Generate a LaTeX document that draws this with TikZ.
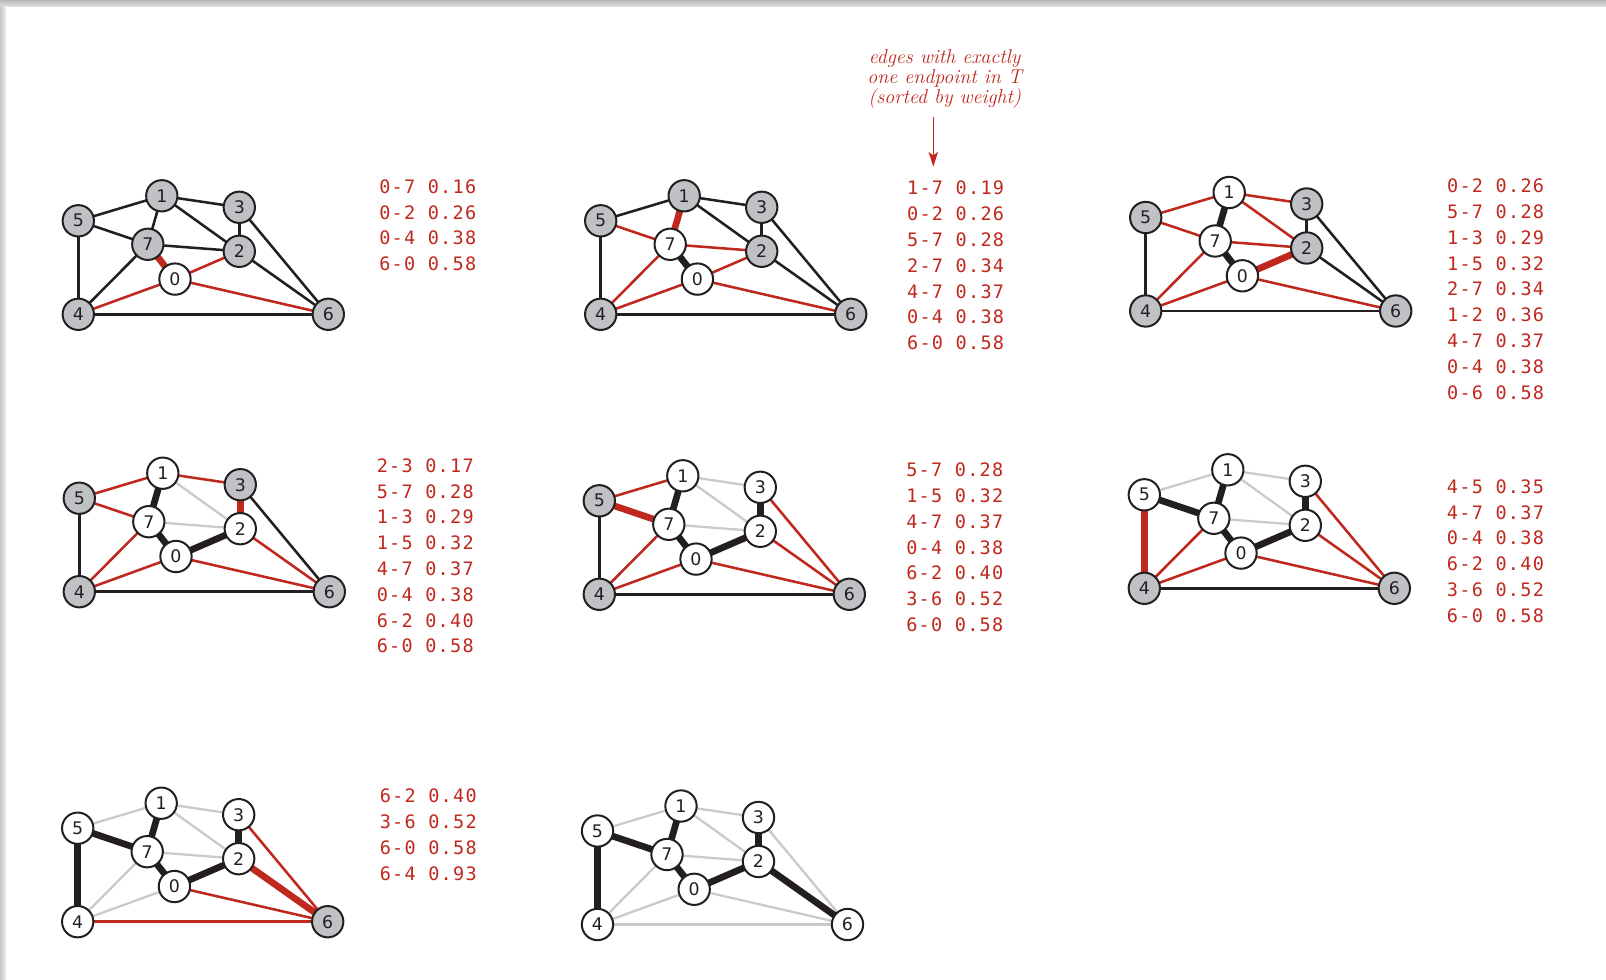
\documentclass[tikz,border=0pt]{standalone}
\usepackage{fontspec}
\newfontfamily\lblfont{DejaVu Sans}
\newfontfamily\monofont[LetterSpace=7]{DejaVu Sans Mono}
\usetikzlibrary{arrows.meta}
\definecolor{myred}{RGB}{192,40,30}
\definecolor{ngray}{RGB}{192,193,196}
\definecolor{lgray}{RGB}{202,202,202}
\definecolor{ink}{RGB}{35,31,32}
\pgfdeclarelayer{back}
\pgfdeclarelayer{bg}
\pgfsetlayers{back,bg,main}
\tikzset{
 vtx/.style={circle, draw=ink, line width=1.5pt, minimum size=23.5pt, inner sep=0pt,
   font=\lblfont\fontsize{13}{13}\selectfont, text=ink},
 blk/.style={draw=ink, line width=1.9pt},
 rd/.style={draw=myred, line width=1.9pt},
 gr/.style={draw=lgray, line width=1.7pt},
 tk/.style={draw=ink, line width=5pt},
 rtk/.style={draw=myred, line width=5pt},
 lst/.style={anchor=base west, inner sep=0pt, text=myred, font=\monofont\fontsize{13.9}{13.9}\selectfont},
 ann/.style={anchor=base, inner sep=0pt, text=myred, font=\itshape\fontsize{15}{15}\selectfont},
 p4/.style={at={(0,0)}}, p5/.style={at={(0,-93.5)}}, p1/.style={at={(83.5,-118.5)}},
 p3/.style={at={(161,-107)}}, p7/.style={at={(69.5,-70)}}, p2/.style={at={(161,-63)}},
 p0/.style={at={(96.7,-35.2)}}, p6/.style={at={(250,0)}}
}
\newcommand\vtxs[4]{\begin{scope}[shift={#2}]\foreach \n in {#4} \node[vtx, fill=#3, p\n] (#1\n) {\n};\end{scope}}
\newcommand\edgeset[3]{\foreach \a/\b in {#3} \draw[#2] (#1\a.center) -- (#1\b.center);}
\newcommand\mylist[4]{\foreach \t [count=\i] in {#4} \node[lst] (#1\i) at (#2, {#3+(\i-1)*25.8}) {\t};}
\begin{document}
\begin{tikzpicture}[x=0.75pt, y=-0.75pt]
\useasboundingbox (0,0) rectangle (1606,980);
\begin{pgfonlayer}{back}
\fill[white] (0,0) rectangle (1606,980);
\shade[top color=black!28, bottom color=black!10] (0,0) rectangle (1606,7);
\shade[left color=black!22, right color=black!6] (0,7) rectangle (6,980);
\end{pgfonlayer}

% ---------- panel A
\vtxs{A}{(78.3,314.3)}{white}{0}
\vtxs{A}{(78.3,314.3)}{ngray}{1,2,3,4,5,6,7}
% ---------- panel B
\vtxs{B}{(600.7,314.3)}{white}{0,7}
\vtxs{B}{(600.7,314.3)}{ngray}{1,2,3,4,5,6}
% ---------- panel C
\vtxs{C}{(1145.7,311)}{white}{0,7,1}
\vtxs{C}{(1145.7,311)}{ngray}{2,3,4,5,6}
% ---------- panel D
\vtxs{D}{(79.3,591.7)}{white}{0,7,1,2}
\vtxs{D}{(79.3,591.7)}{ngray}{3,4,5,6}
% ---------- panel E
\vtxs{E}{(599.3,594.3)}{white}{0,7,1,2,3}
\vtxs{E}{(599.3,594.3)}{ngray}{4,5,6}
% ---------- panel F
\vtxs{F}{(1144.3,588.3)}{white}{0,7,1,2,3,5}
\vtxs{F}{(1144.3,588.3)}{ngray}{4,6}
% ---------- panel G
\vtxs{G}{(77.7,921.7)}{white}{0,7,1,2,3,5,4}
\vtxs{G}{(77.7,921.7)}{ngray}{6}
% ---------- panel H
\vtxs{H}{(597.5,924.5)}{white}{0,1,2,3,4,5,6,7}

\begin{pgfonlayer}{bg}
 % A
 \edgeset{A}{blk}{5/1,1/3,5/7,1/7,1/2,3/2,7/2,3/6,2/6,5/4,7/4,4/6}
 \edgeset{A}{rd}{0/2,0/4,0/6}
 \edgeset{A}{rtk}{0/7}
 % B
 \edgeset{B}{blk}{5/1,1/3,1/2,3/2,3/6,2/6,5/4,4/6}
 \edgeset{B}{rd}{5/7,2/7,4/7,0/2,0/4,0/6}
 \edgeset{B}{tk}{0/7}
 \edgeset{B}{rtk}{1/7}
 % C
 \edgeset{C}{blk}{3/2,3/6,2/6,5/4,4/6}
 \edgeset{C}{rd}{1/5,1/3,1/2,5/7,2/7,4/7,0/4,0/6}
 \edgeset{C}{tk}{0/7,1/7}
 \edgeset{C}{rtk}{0/2}
 % D
 \edgeset{D}{gr}{1/2,2/7}
 \edgeset{D}{blk}{5/4,3/6,4/6}
 \edgeset{D}{rd}{1/5,1/3,5/7,4/7,0/4,0/6,2/6}
 \edgeset{D}{tk}{0/7,1/7,0/2}
 \edgeset{D}{rtk}{2/3}
 % E
 \edgeset{E}{gr}{1/2,2/7,1/3}
 \edgeset{E}{blk}{4/5,4/6}
 \edgeset{E}{rd}{1/5,4/7,0/4,2/6,3/6,0/6}
 \edgeset{E}{tk}{0/7,1/7,0/2,2/3}
 \edgeset{E}{rtk}{5/7}
 % F
 \edgeset{F}{gr}{1/2,2/7,1/3,1/5}
 \edgeset{F}{blk}{4/6}
 \edgeset{F}{rd}{4/7,0/4,2/6,3/6,0/6}
 \edgeset{F}{tk}{0/7,1/7,0/2,2/3,5/7}
 \edgeset{F}{rtk}{4/5}
 % G
 \edgeset{G}{gr}{1/2,2/7,1/3,1/5,4/7,0/4}
 \edgeset{G}{rd}{3/6,0/6,4/6}
 \edgeset{G}{tk}{0/7,1/7,0/2,2/3,5/7,4/5}
 \edgeset{G}{rtk}{2/6}
 % H
 \edgeset{H}{gr}{1/2,2/7,1/3,1/5,4/7,0/4,3/6,0/6,4/6}
 \edgeset{H}{tk}{0/7,1/7,0/2,2/3,5/7,4/5,2/6}
\end{pgfonlayer}

% ---------- lists
\mylist{LA}{379}{193.4}{0-7 0.16,0-2 0.26,0-4 0.38,6-0 0.58}
\mylist{LB}{906.8}{195}{1-7 0.19,0-2 0.26,5-7 0.28,2-7 0.34,4-7 0.37,0-4 0.38,6-0 0.58}
\mylist{LC}{1446.8}{192.7}{0-2 0.26,5-7 0.28,1-3 0.29,1-5 0.32,2-7 0.34,1-2 0.36,4-7 0.37,0-4 0.38,0-6 0.58}
\mylist{LD}{376.5}{472.2}{2-3 0.17,5-7 0.28,1-3 0.29,1-5 0.32,4-7 0.37,0-4 0.38,6-2 0.40,6-0 0.58}
\mylist{LE}{906}{476.7}{5-7 0.28,1-5 0.32,4-7 0.37,0-4 0.38,6-2 0.40,3-6 0.52,6-0 0.58}
\mylist{LF}{1446.7}{493.2}{4-5 0.35,4-7 0.37,0-4 0.38,6-2 0.40,3-6 0.52,6-0 0.58}
\mylist{LG}{379.5}{802.7}{6-2 0.40,3-6 0.52,6-0 0.58,6-4 0.93}

% ---------- annotation
\node[ann] (an1) at (944.7,64) {edges with exactly};
\node[ann] (an2) at (944.7,84) {one endpoint in T};
\node[ann] (an3) at (944.7,104) {(sorted by weight)};
\coordinate (arS) at (933.3,116.7);
\coordinate (arE) at (933.3,166.7);
\draw[myred, line width=1.1pt, -{Stealth[length=11pt, width=7pt, inset=2.5pt]}] (arS) -- (arE);
\end{tikzpicture}
\end{document}
